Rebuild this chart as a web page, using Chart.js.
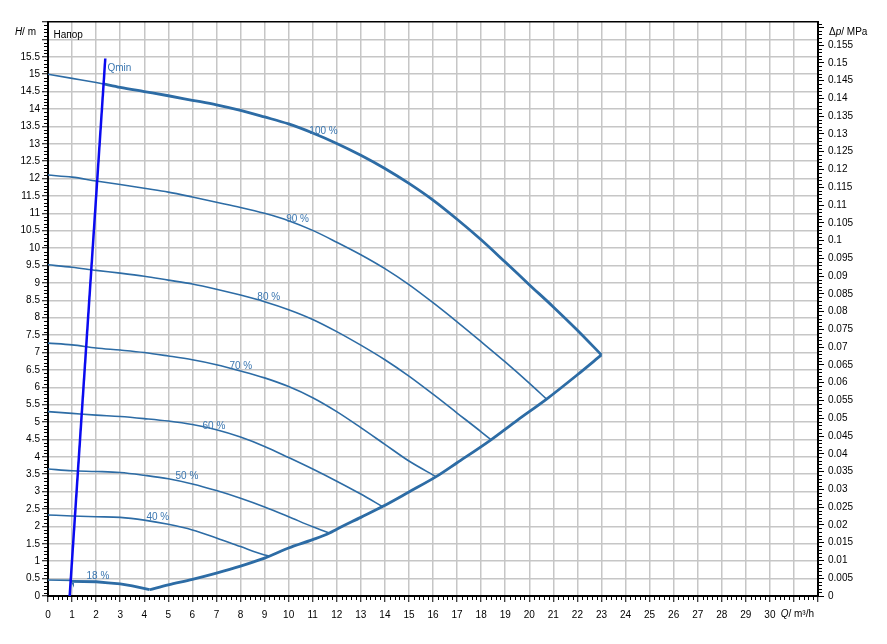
<!DOCTYPE html>
<html><head><meta charset="utf-8">
<script src="https://cdn.jsdelivr.net/npm/chart.js@4.4.0/dist/chart.umd.min.js"></script>
<style>html,body{margin:0;padding:0;background:#fff;} #wrap{width:887px;height:644px;position:relative;}</style>
</head><body><div id="wrap"><canvas id="c"></canvas></div>
<script>
// ---- data (Q in m³/h, H in m) ----
const q100 = [0,1,2,2.31,3,4,5,6,7,8,9,10,11,12,13,14,15,16,17,18,19,20,21,22,23];
const h100 = [15.0,14.88,14.76,14.72,14.62,14.5,14.38,14.25,14.12,13.96,13.77,13.57,13.31,13.01,12.67,12.29,11.86,11.38,10.83,10.24,9.6,8.95,8.31,7.64,6.93];
const q90 = [0,1,2,3,4,5,6,7,8,9,10,11,12,13,14,15,16,17,18,19,20,20.72];
const h90 = [12.1,12.04,11.93,11.83,11.72,11.61,11.47,11.32,11.17,11.0,10.79,10.51,10.17,9.81,9.41,8.95,8.43,7.88,7.31,6.73,6.12,5.66];
const q80 = [0,1,2,3,4,5,6,7,8,9,10,11,12,13,14,15,16,17,18,18.41];
const h80 = [9.52,9.45,9.36,9.28,9.19,9.08,8.97,8.82,8.65,8.46,8.23,7.95,7.6,7.21,6.79,6.32,5.8,5.26,4.72,4.49];
const q70 = [0,1,2,3,4,5,6,7,8,9,10,11,12,13,14,15,16.13];
const h70 = [7.27,7.22,7.13,7.07,7.0,6.9,6.79,6.65,6.47,6.27,6.02,5.7,5.3,4.84,4.36,3.88,3.43];
const q60 = [0,1,2,3,4,5,6,7,8,9,10,11,12,13,13.9];
const h60 = [5.3,5.25,5.2,5.16,5.1,5.03,4.93,4.78,4.57,4.3,3.98,3.65,3.3,2.93,2.57];
const q50 = [0,1,2,3,4,5,6,7,8,9,10,11,11.7];
const h50 = [3.65,3.6,3.58,3.55,3.47,3.37,3.22,3.03,2.81,2.56,2.28,1.99,1.81];
const q40 = [0,1,2,3,4,5,6,7,8,9,9.22];
const h40 = [2.33,2.3,2.28,2.26,2.18,2.06,1.9,1.67,1.42,1.18,1.15];
const q18 = [0,1,1.02,2,2.5,3,3.5,4.22];
const h18 = [0.46,0.45,0.42,0.41,0.38,0.35,0.29,0.18];
const qSys = [4.22,5,6,7,8,9,9.22,10,11,11.7,12,13,13.9,15,16.13,17,18.41,19.5,20.72,22,23];
const hSys = [0.18,0.32,0.48,0.66,0.86,1.09,1.15,1.38,1.62,1.81,1.92,2.26,2.57,2.99,3.43,3.83,4.49,5.05,5.66,6.36,6.93];
const qQmin = [0.9, 2.38];
const hQmin = [0, 15.45];
const split100 = 2.31;   // Qmin crossing, 100 % curve
const split18 = 1.0;     // Qmin crossing, 18 % curve

const labelText = ['100 %','90 %','80 %','70 %','60 %','50 %','40 %','18 %','Qmin'];
const labelQ = [10.86,9.9,8.7,7.54,6.42,5.3,4.09,1.6,2.47];
const labelH = [13.36,10.84,8.58,6.61,4.89,3.45,2.26,0.58,15.17];

const qMax = 32, hMax = 16.5, dpMax = 0.1615;

const pts = (q, h) => q.map((x, i) => ({x, y: h[i]}));
const CURVE = '#2d6ca5', LBL = '#3a76b0', FONT = '"Liberation Sans", Arial, sans-serif';

function curve(q, h, w) {
  return {data: pts(q, h), borderColor: CURVE, borderWidth: w, showLine: true,
    pointRadius: 0, cubicInterpolationMode: 'monotone', fill: false};
}
const p100 = pts(q100, h100), p18 = pts(q18, h18);

const datasets = [
  {data: pts(qQmin, hQmin), borderColor: '#0a0af0', borderWidth: 2.5, showLine: true, pointRadius: 0, tension: 0},
  {data: p100.filter(p => p.x <= split100), borderColor: CURVE, borderWidth: 1.6, showLine: true, pointRadius: 0, cubicInterpolationMode: 'monotone'},
  {data: p100.filter(p => p.x >= split100), borderColor: CURVE, borderWidth: 2.8, showLine: true, pointRadius: 0, cubicInterpolationMode: 'monotone'},
  curve(q90, h90, 1.6), curve(q80, h80, 1.6), curve(q70, h70, 1.6), curve(q60, h60, 1.6),
  curve(q50, h50, 1.6), curve(q40, h40, 1.6),
  {data: p18.filter(p => p.x <= split18), borderColor: CURVE, borderWidth: 1.6, showLine: true, pointRadius: 0, tension: 0},
  {data: p18.filter(p => p.x >= split18), borderColor: CURVE, borderWidth: 2.8, showLine: true, pointRadius: 0, tension: 0},
  curve(qSys, hSys, 2.8)
];

const decor = {
  id: 'decor',
  afterDraw(chart) {
    const c = chart.ctx, {x, y, y2} = chart.scales;
    c.save();
    c.strokeStyle = '#000'; c.lineWidth = 1;
    c.beginPath();
    for (let i = 0; i <= qMax * 5; i++) {
      if (i % 5 === 0) continue;
      const px = Math.round(x.getPixelForValue(i / 5)) + 0.5;
      c.moveTo(px, x.top); c.lineTo(px, x.top + 4);
    }
    for (let i = 0; i <= hMax * 10; i++) {
      if (i % 5 === 0) continue;
      const py = Math.round(y.getPixelForValue(i / 10)) + 0.5;
      c.moveTo(y.right, py); c.lineTo(y.right - 4, py);
    }
    for (let i = 0; i <= Math.floor(dpMax * 1000); i++) {
      if (i % 5 === 0) continue;
      const py = Math.round(y2.getPixelForValue(i / 1000)) + 0.5;
      c.moveTo(y2.left, py); c.lineTo(y2.left + 4, py);
    }
    c.stroke();
    // curve labels
    c.font = '10px ' + FONT; c.textBaseline = 'middle'; c.textAlign = 'left';
    c.fillStyle = LBL;
    labelText.forEach((t, i) => c.fillText(t, x.getPixelForValue(labelQ[i]), y.getPixelForValue(labelH[i])));
    c.fillStyle = '#000';
    c.fillText('Напор', x.getPixelForValue(0.23), y.getPixelForValue(16.13));
    // axis titles with italic symbols
    function mixed(parts, px, py, align) {
      let w = 0;
      parts.forEach(p => { c.font = (p[1] ? 'italic ' : '') + '10px ' + FONT; w += c.measureText(p[0]).width; });
      let cx = align === 'right' ? px - w : px;
      parts.forEach(p => { c.font = (p[1] ? 'italic ' : '') + '10px ' + FONT; c.fillText(p[0], cx, py); cx += c.measureText(p[0]).width; });
    }
    c.textAlign = 'left';
    mixed([['H', true], ['/ m', false]], y.right - 12, y.getPixelForValue(16.2), 'right');
    mixed([['Δ', false], ['p', true], ['/ MPa', false]], y2.left + 11, y.getPixelForValue(16.2), 'left');
    mixed([['Q', true], ['/ m³/h', false]], x.getPixelForValue(30.45), x.top + 18, 'left');
    c.restore();
  }
};

const tickFont = {family: FONT, size: 10};
new Chart(document.getElementById('c'), {
  type: 'scatter',
  data: {datasets},
  options: {
    responsive: true, maintainAspectRatio: false, animation: false,
    layout: {padding: {top: 22, left: 0, right: 0, bottom: 0}},
    plugins: {legend: {display: false}, tooltip: {enabled: false}},
    scales: {
      x: {type: 'linear', position: 'bottom', min: 0, max: qMax,
        afterFit(s) { s.height = 48; },
        border: {color: '#000', width: 2},
        grid: {color: ctx => (ctx.tick && ctx.tick.value >= qMax) ? '#000' : '#c6c6c6', lineWidth: 1.5,
          tickColor: '#000', tickWidth: 1, tickLength: 6},
        ticks: {stepSize: 1, autoSkip: false, maxRotation: 0, padding: 7, color: '#000', font: tickFont,
          callback: v => v > 30.5 ? '' : String(v)}},
      y: {type: 'linear', position: 'left', min: 0, max: hMax,
        afterFit(s) { s.width = 48; },
        border: {color: '#000', width: 2},
        grid: {color: ctx => (ctx.tick && ctx.tick.value >= hMax) ? '#000' : '#c6c6c6', lineWidth: 1.5,
          tickColor: '#000', tickWidth: 1, tickLength: 6},
        ticks: {stepSize: 0.5, autoSkip: false, padding: 2, color: '#000', font: tickFont,
          callback: v => v > 15.75 ? '' : String(+v.toFixed(1))}},
      y2: {type: 'linear', position: 'right', min: 0, max: dpMax,
        afterFit(s) { s.width = 69; },
        border: {color: '#000', width: 2},
        grid: {drawOnChartArea: false, tickColor: '#000', tickWidth: 1, tickLength: 6},
        ticks: {stepSize: 0.005, includeBounds: false, autoSkip: false, padding: 4, color: '#000', font: tickFont,
          callback: v => v > 0.1575 ? '' : String(+v.toFixed(3))}}
    }
  },
  plugins: [decor]
});
</script></body></html>
